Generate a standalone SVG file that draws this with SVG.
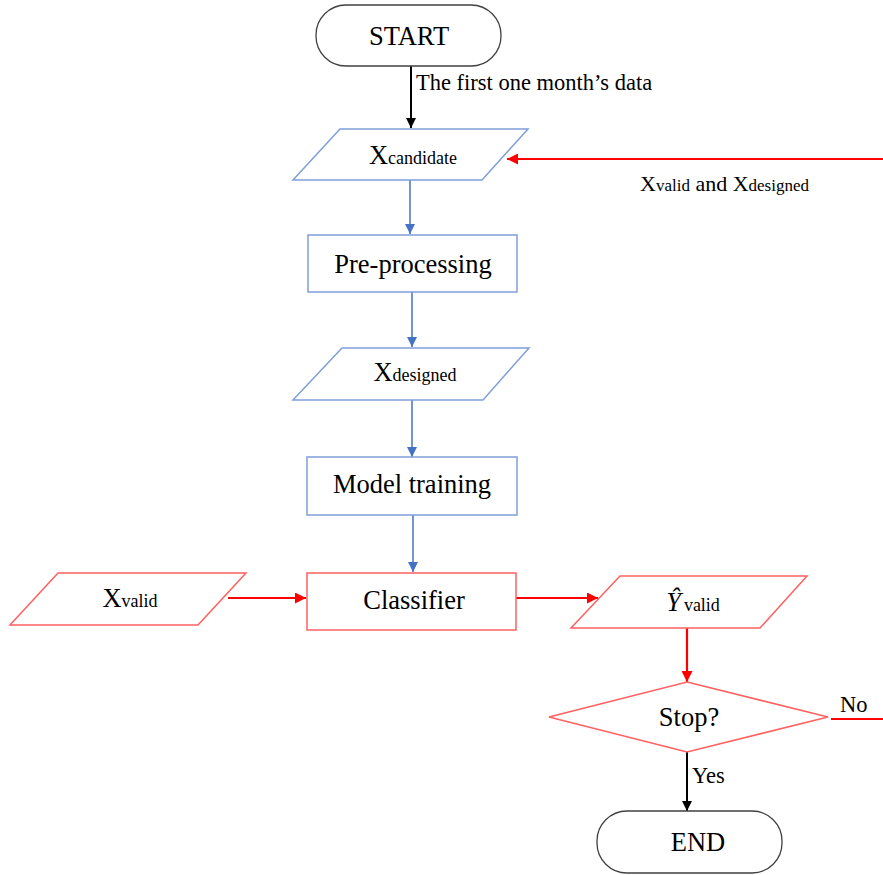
<svg xmlns="http://www.w3.org/2000/svg" width="883" height="875" viewBox="0 0 883 875" font-family="'Liberation Serif', 'DejaVu Serif', serif">
  <defs>
    <marker id="ahBlack" viewBox="0 0 10 10" refX="10" refY="5" markerWidth="10" markerHeight="10" markerUnits="userSpaceOnUse" orient="auto">
      <path d="M0,0 L10,5 L0,10 z" fill="#000"/>
    </marker>
    <marker id="ahBlue" viewBox="0 0 10 10" refX="10" refY="5" markerWidth="10" markerHeight="10" markerUnits="userSpaceOnUse" orient="auto">
      <path d="M0,0 L10,5 L0,10 z" fill="#4472C4"/>
    </marker>
    <marker id="ahRed" viewBox="0 0 10 10" refX="10" refY="5" markerWidth="11" markerHeight="11" markerUnits="userSpaceOnUse" orient="auto">
      <path d="M0,0 L10,5 L0,10 z" fill="#FF0000"/>
    </marker>
  </defs>
  <style>
    text { font-family: 'Liberation Serif', 'DejaVu Serif', serif; fill: #000; }
    .lbl { font-size: 26.5px; text-anchor: middle; }
    .sub { font-size: 18px; }
    .note { font-size: 22.5px; }
    .term { fill: #fff; stroke: #404040; stroke-width: 1.3; }
    .bshape { fill: #fff; stroke: #7F9FD8; stroke-width: 1.5; }
    .rshape { fill: #fff; stroke: #FF6060; stroke-width: 1.5; }
    .cBlack { stroke: #000; stroke-width: 2; fill: none; }
    .cBlue { stroke: #4472C4; stroke-width: 1.5; fill: none; }
    .cRed { stroke: #FF0000; stroke-width: 2.2; fill: none; }
  </style>
  <rect width="883" height="875" fill="#fff"/>

  <!-- connectors -->
  <g id="connectors">
    <line class="cBlack" x1="411" y1="66" x2="411" y2="128" marker-end="url(#ahBlack)"/>
    <line class="cRed" x1="883" y1="159" x2="507" y2="159" marker-end="url(#ahRed)"/>
    <line class="cBlue" x1="410" y1="180" x2="410" y2="234" marker-end="url(#ahBlue)"/>
    <line class="cBlue" x1="412" y1="292" x2="412" y2="347" marker-end="url(#ahBlue)"/>
    <line class="cBlue" x1="412" y1="400" x2="412" y2="457" marker-end="url(#ahBlue)"/>
    <line class="cBlue" x1="413" y1="515" x2="413" y2="572" marker-end="url(#ahBlue)"/>
    <line class="cRed" x1="228" y1="598" x2="306" y2="598" marker-end="url(#ahRed)"/>
    <line class="cRed" x1="516" y1="598" x2="598" y2="598" marker-end="url(#ahRed)"/>
    <line class="cRed" x1="687" y1="628" x2="687" y2="682" marker-end="url(#ahRed)"/>
    <line class="cRed" x1="831" y1="719" x2="883" y2="719"/>
    <line class="cBlack" x1="687" y1="752" x2="687" y2="811" marker-end="url(#ahBlack)"/>
    <text class="note" x="416" y="90">The first one month’s data</text>
    <text x="640" y="191" font-size="22">X<tspan font-size="17">valid</tspan> and X<tspan font-size="17">designed</tspan></text>
    <text class="note" x="840" y="712">No</text>
    <text class="note" x="692" y="783">Yes</text>
  </g>

  <g id="start">
    <rect class="term" x="316" y="5" width="185" height="61" rx="30" ry="30"/>
    <text class="lbl" x="409" y="45">START</text>
  </g>

  <g id="x-candidate">
    <polygon class="bshape" points="340,129 528,129 482,180 293,180"/>
    <text class="lbl" x="413" y="164">X<tspan class="sub">candidate</tspan></text>
  </g>

  <g id="pre-processing">
    <rect class="bshape" x="308" y="235" width="209" height="57"/>
    <text class="lbl" x="413" y="273">Pre-processing</text>
  </g>

  <g id="x-designed">
    <polygon class="bshape" points="342,348 529,348 483,400 293,400"/>
    <text class="lbl" x="415" y="381">X<tspan class="sub">designed</tspan></text>
  </g>

  <g id="model-training">
    <rect class="bshape" x="307" y="457" width="210" height="58"/>
    <text class="lbl" x="412" y="493">Model training</text>
  </g>

  <g id="x-valid">
    <polygon class="rshape" points="58,573 246,573 198,625 10,625"/>
    <text class="lbl" x="130" y="607">X<tspan class="sub">valid</tspan></text>
  </g>

  <g id="classifier">
    <rect class="rshape" x="307" y="573" width="209" height="57"/>
    <text class="lbl" x="414" y="609">Classifier</text>
  </g>

  <g id="y-valid">
    <polygon class="rshape" points="620,576 807,576 760,628 571,628"/>
    <text class="lbl" x="693" y="611"><tspan font-style="italic">Ŷ</tspan><tspan class="sub" dx="3">valid</tspan></text>
  </g>

  <g id="stop">
    <polygon class="rshape" points="687,682 828,717 687,752 549,717"/>
    <text class="lbl" x="689" y="726">Stop?</text>
  </g>

  <g id="end">
    <rect class="term" x="597" y="811" width="185" height="62" rx="30" ry="30"/>
    <text class="lbl" x="698" y="851">END</text>
  </g>
</svg>
